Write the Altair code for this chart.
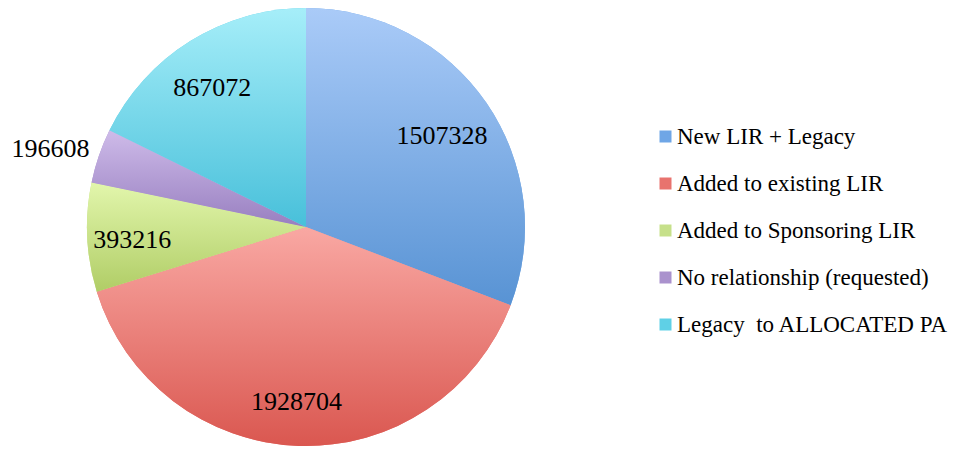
import altair as alt
import pandas as pd

categories = [
    "New LIR + Legacy",
    "Added to existing LIR",
    "Added to Sponsoring LIR",
    "No relationship (requested)",
    "Legacy\u00a0 to ALLOCATED PA",
]
values = [1507328, 1928704, 393216, 196608, 867072]
order = [0, 1, 2, 3, 4]

legend_colors = ["#6fa6e6", "#e8736e", "#c6e08a", "#aa92cd", "#5fd0e6"]
top_colors = ["#aacbf8", "#f9a8a3", "#e2f6ac", "#cebbe9", "#a6eef9"]
bottom_colors = ["#5893d4", "#da5750", "#b0cd66", "#987fc0", "#48c0da"]

df = pd.DataFrame({"category": categories, "value": values, "order": order})

R = 219
FONT = "Liberation Serif"

base = (
    alt.Chart(df)
    .transform_window(cum="sum(value)", sort=[alt.SortField("order")], frame=[None, 0])
    .transform_joinaggregate(total="sum(value)")
    .transform_calculate(
        start="(datum.cum - datum.value) / datum.total",
        end="datum.cum / datum.total",
        mid="(datum.cum - datum.value / 2) / datum.total",
        frac="datum.value / datum.total",
    )
)

theta_scale = alt.Scale(domain=[0, 1])

solid = base.mark_arc(radius=R).encode(
    theta=alt.Theta("start:Q", scale=theta_scale),
    theta2="end:Q",
    color=alt.Color(
        "category:N",
        scale=alt.Scale(domain=categories, range=legend_colors),
        legend=alt.Legend(
            title=None,
            orient="none",
            legendX=646,
            legendY=116,
            symbolType="square",
            symbolSize=144,
            symbolStrokeWidth=0,
            symbolOpacity=1,
            labelFont=FONT,
            labelFontSize=23,
            labelColor="black",
            labelLimit=400,
            rowPadding=23,
            labelOffset=0,
            padding=0,
        ),
    ),
)

layers = [solid]
for cat, top, bot in zip(categories, top_colors, bottom_colors):
    grad = alt.Gradient(
        gradient="linear",
        stops=[alt.GradientStop(color=top, offset=0), alt.GradientStop(color=bot, offset=1)],
        x1=0, x2=0, y1=0, y2=1,
    )
    layers.append(
        base.transform_filter(alt.datum.category == cat)
        .mark_arc(radius=R, fill=grad)
        .encode(theta=alt.Theta("start:Q", scale=theta_scale), theta2="end:Q")
    )

labels_in = base.transform_filter("datum.frac >= 0.05").mark_text(
    radius=170, font=FONT, fontSize=26, color="black", dx=-4, dy=5
).encode(
    theta=alt.Theta("mid:Q", scale=theta_scale),
    text=alt.Text("value:Q", format="d"),
)

labels_out = base.transform_filter("datum.frac < 0.05").mark_text(
    radius=266, font=FONT, fontSize=26, color="black", dx=-4, dy=8
).encode(
    theta=alt.Theta("mid:Q", scale=theta_scale),
    text=alt.Text("value:Q", format="d"),
)

layers += [labels_in, labels_out]

chart = (
    alt.layer(*layers)
    .properties(width=596, height=436, padding=0, background="white")
    .configure_view(stroke=None)
)

chart.save("out.html", embed_options={"renderer": "svg", "actions": False})
